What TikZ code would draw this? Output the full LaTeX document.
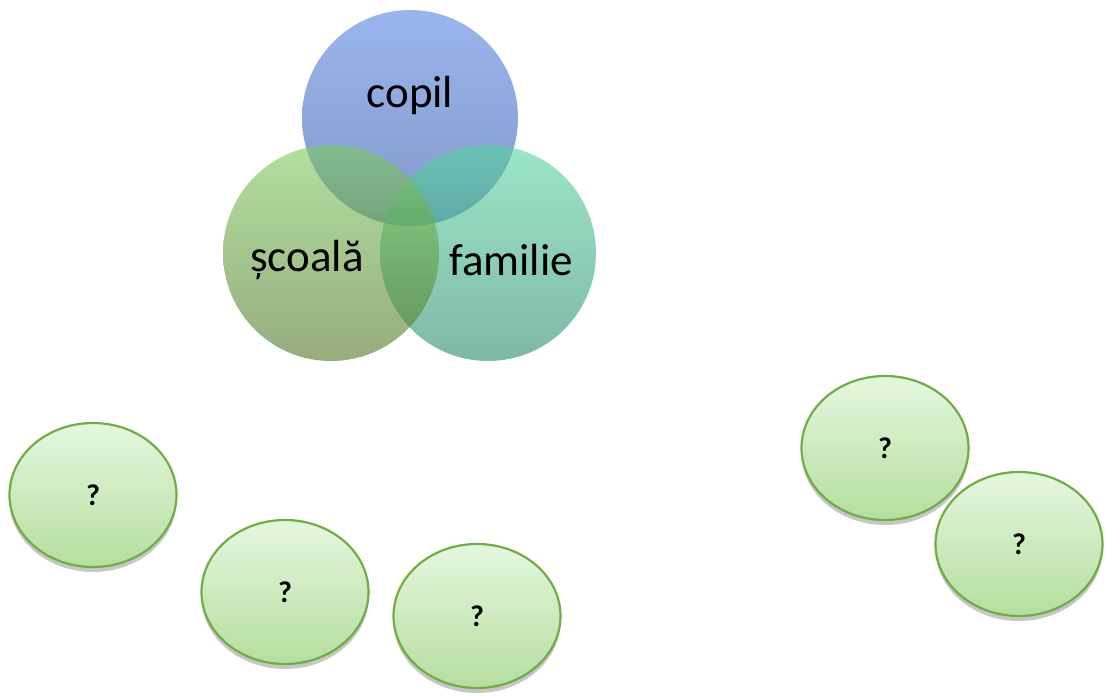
\documentclass[tikz,border=0pt]{standalone}
\usepackage{fontspec}
\setmainfont{Carlito}
\usetikzlibrary{shapes.geometric,shadows}
\definecolor{cblueT}{RGB}{87,132,227}
\definecolor{cblueB}{RGB}{48,83,163}
\definecolor{cgreenT}{RGB}{127,202,97}
\definecolor{cgreenB}{RGB}{80,117,38}
\definecolor{ctealT}{RGB}{88,213,163}
\definecolor{ctealB}{RGB}{42,137,105}
\definecolor{qfillT}{RGB}{228,247,222}
\definecolor{qfillB}{RGB}{182,222,160}
\definecolor{qline}{RGB}{112,173,71}
\tikzset{
  venn/.style={circle, minimum size=216pt, inner sep=0pt, fill opacity=0.6, text opacity=1},
  venntext/.style={font=\fontsize{45}{50}\selectfont, inner sep=0pt},
  qbubble/.style={ellipse, minimum width=167pt, minimum height=144pt, inner sep=0pt,
    draw=qline, line width=2.2pt, top color=qfillT, bottom color=qfillB,
    font=\bfseries\fontsize{30}{32}\selectfont,
    drop shadow={shadow xshift=0pt, shadow yshift=-5pt, fill=black!22, opacity=1}},
}
\begin{document}
\begin{tikzpicture}[x=1pt,y=-1pt]
\useasboundingbox (0,0) rectangle (1106,696);
\node[venn, top color=cblueT, bottom color=cblueB] (copil) at (410,118) {};
\node[venn, top color=ctealT, bottom color=ctealB] (familie) at (488,253) {};
\node[venn, top color=cgreenT, bottom color=cgreenB] (scoala) at (331,253) {};
\node[venntext] (tcopil) at (410,96) {copil};
\node[venntext] (tscoala) at (307,260) {școală};
\node[venntext] (tfamilie) at (511,260) {familie};
\node[qbubble] (q1) at (93,495) {?};
\node[qbubble] (q2) at (285,592) {?};
\node[qbubble] (q3) at (477,616) {?};
\node[qbubble] (q4) at (885,448) {?};
\node[qbubble] (q5) at (1019,544) {?};
\end{tikzpicture}
\end{document}
